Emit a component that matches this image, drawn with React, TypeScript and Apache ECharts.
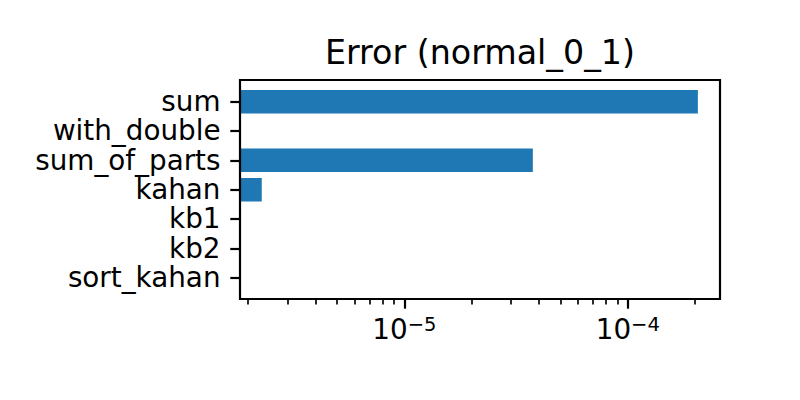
import React, { useEffect, useRef } from "react";
import * as echarts from "echarts";

const categories = ["sum", "with_double", "sum_of_parts", "kahan", "kb1", "kb2", "sort_kahan"];
const errorValues = [2.06e-4, 0, 3.76e-5, 2.3e-6, 0, 0, 0];
const majorTicks = [1e-5, 1e-4];
const minorTicks = [
  2e-6, 3e-6, 4e-6, 5e-6, 6e-6, 7e-6, 8e-6, 9e-6,
  2e-5, 3e-5, 4e-5, 5e-5, 6e-5, 7e-5, 8e-5, 9e-5,
  2e-4,
];
const xMin = 1.838e-6;
const xMax = 2.588e-4;
const titleText = "Error (normal_0_1)";

const FONT = "DejaVu Sans";
const BAR_COLOR = "#1f77b4";

export default function App() {
  const ref = useRef<HTMLDivElement>(null);

  useEffect(() => {
    if (!ref.current) return;
    const chart = echarts.init(ref.current, undefined, { renderer: "svg" });

    const barData = errorValues
      .map((v, i) => [v, i])
      .filter((d) => d[0] > 0);

    const option: any = {
      animation: false,
      backgroundColor: "#ffffff",
      textStyle: { fontFamily: FONT },
      graphic: [
        {
          type: "text",
          x: 480,
          y: 52.5,
          style: {
            text: titleText,
            fontSize: 33.3,
            fontFamily: FONT,
            fill: "#000",
            textAlign: "center",
            textVerticalAlign: "middle",
          },
        },
      ],
      grid: [
        {
          left: 240,
          top: 80,
          width: 480,
          height: 219,
          show: true,
          borderColor: "#000",
          borderWidth: 2.2,
          backgroundColor: "transparent",
          z: 10,
        },
        { left: 240, top: 87, width: 480, height: 205.3 },
      ],
      xAxis: [
        {
          gridIndex: 0,
          type: "log",
          logBase: 10,
          min: xMin,
          max: xMax,
          position: "bottom",
          axisLine: { show: false },
          splitLine: { show: false },
          axisTick: {
            show: true,
            customValues: majorTicks,
            length: 9.7,
            lineStyle: { color: "#000", width: 2.2 },
          },
          axisLabel: {
            show: true,
            customValues: majorTicks,
            margin: 14,
            color: "#000",
            formatter: (v: number) => {
              const e = Math.round(Math.log10(v));
              return "{b|10}{s|\u2212" + Math.abs(e) + "}";
            },
            rich: {
              b: { fontSize: 27.8, fontFamily: FONT, color: "#000", lineHeight: 30, verticalAlign: "bottom" },
              s: { fontSize: 19.5, fontFamily: FONT, color: "#000", lineHeight: 30, verticalAlign: "bottom", padding: [0, 0, 9, 0] },
            },
          },
        },
        {
          gridIndex: 0,
          type: "log",
          logBase: 10,
          min: xMin,
          max: xMax,
          position: "bottom",
          axisLine: { show: false },
          splitLine: { show: false },
          axisTick: {
            show: true,
            customValues: minorTicks,
            length: 5.6,
            lineStyle: { color: "#000", width: 1.67 },
          },
          axisLabel: { show: false },
        },
        {
          gridIndex: 1,
          type: "log",
          logBase: 10,
          min: xMin,
          max: xMax,
          show: false,
        },
      ],
      yAxis: [
        { gridIndex: 0, type: "value", min: 0, max: 1, show: false },
        {
          gridIndex: 1,
          type: "category",
          data: categories,
          inverse: true,
          axisLine: { show: false },
          splitLine: { show: false },
          axisTick: {
            show: true,
            alignWithLabel: true,
            length: 9.7,
            lineStyle: { color: "#000", width: 2.2 },
          },
          axisLabel: {
            show: true,
            interval: 0,
            margin: 19.5,
            color: "#000",
            fontSize: 27.8,
            lineHeight: 27,
            fontFamily: FONT,
          },
        },
      ],
      series: [
        {
          type: "custom",
          xAxisIndex: 2,
          yAxisIndex: 1,
          data: barData,
          clip: true,
          renderItem: (params: any, api: any) => {
            const v = api.value(0);
            const c = api.value(1);
            const start = api.coord([xMin, c]);
            const end = api.coord([v, c]);
            const next = api.coord([v, c + 1]);
            const band = Math.abs(next[1] - end[1]) || 29.3;
            const h = band * 0.8;
            return {
              type: "rect",
              shape: {
                x: start[0],
                y: end[1] - h / 2,
                width: end[0] - start[0],
                height: h,
              },
              style: { fill: BAR_COLOR },
            };
          },
        },
      ],
    };

    chart.setOption(option);
    return () => chart.dispose();
  }, []);

  return (
    <div
      ref={ref}
      style={{ position: "fixed", left: 0, top: 0, width: 800, height: 400, background: "#fff" }}
    />
  );
}
